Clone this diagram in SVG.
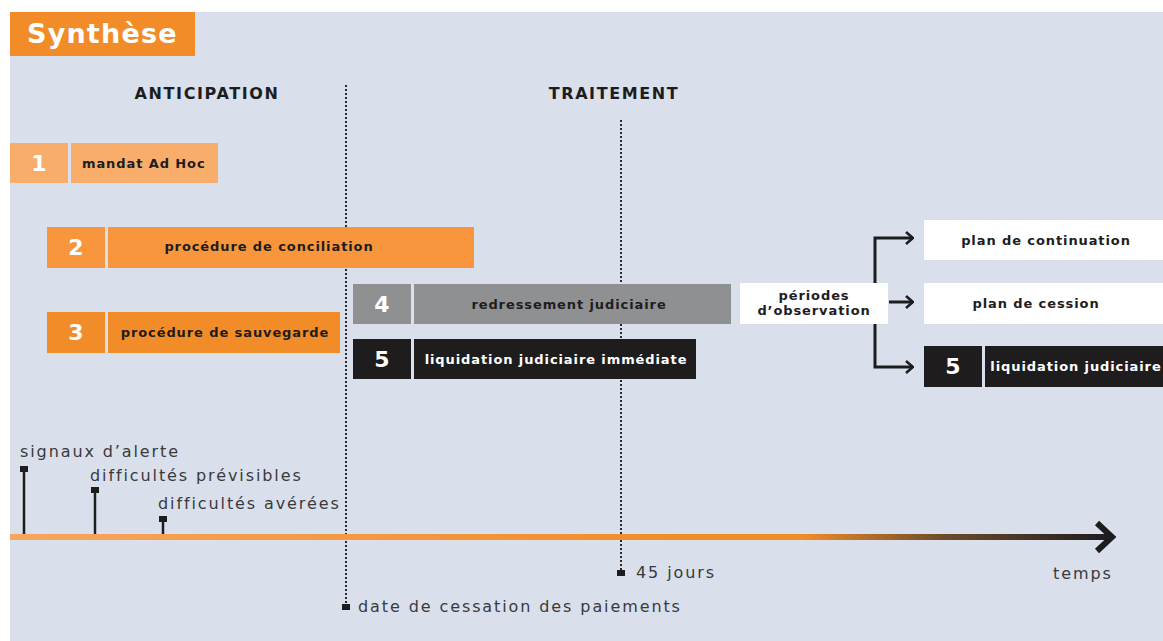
<svg xmlns="http://www.w3.org/2000/svg" width="1163" height="641" viewBox="0 0 1163 641">
<defs>
<style>
.h{font-family:"DejaVu Sans","Liberation Sans",sans-serif;font-weight:700;font-size:16px;letter-spacing:1.6px;fill:#1d1d1f}
.lab{font-family:"DejaVu Sans","Liberation Sans",sans-serif;font-weight:700;font-size:13px;letter-spacing:0.9px;fill:#1d1d1f}
.labw{font-family:"DejaVu Sans","Liberation Sans",sans-serif;font-weight:700;font-size:13px;letter-spacing:0.9px;fill:#ffffff}
.num{font-family:"DejaVu Sans","Liberation Sans",sans-serif;font-weight:700;font-size:22px;fill:#ffffff}
.t{font-family:"DejaVu Sans","Liberation Sans",sans-serif;font-size:16px;fill:#3a3a3c;letter-spacing:1.9px}
.dot{stroke:#2a2a2a;stroke-width:2;stroke-dasharray:2 2}
.conn{fill:none;stroke:#1d1d1f;stroke-width:3}
.tick{stroke:#1d1d1f;stroke-width:2.5}
</style>
<linearGradient id="tl" x1="10" y1="0" x2="1110" y2="0" gradientUnits="userSpaceOnUse">
<stop offset="0" stop-color="#f7a55e"/>
<stop offset="0.6" stop-color="#f28c28"/>
<stop offset="0.72" stop-color="#f28c28"/>
<stop offset="0.85" stop-color="#6b4a2a"/>
<stop offset="1" stop-color="#1d1d1f"/>
</linearGradient>
<marker id="ah" viewBox="0 0 10 14" markerWidth="10" markerHeight="14" refX="9" refY="7" orient="auto" markerUnits="userSpaceOnUse">
<path d="M2,1 L9,7 L2,13" fill="none" stroke="#1d1d1f" stroke-width="2.6"/>
</marker>
</defs>
<rect x="0" y="0" width="1163" height="641" fill="#ffffff"/>
<rect x="10" y="12" width="1153" height="629" fill="#d9dfeb"/>

<g id="title">
<rect x="10" y="12" width="185" height="44" fill="#f28c28"/>
<text x="27" y="43" font-family="'DejaVu Sans','Liberation Sans',sans-serif" font-weight="700" font-size="27" letter-spacing="1.2" fill="#ffffff">Synthèse</text>
</g>

<text class="h" x="207" y="99" text-anchor="middle">ANTICIPATION</text>
<text class="h" x="614" y="99" text-anchor="middle">TRAITEMENT</text>

<line class="dot" x1="346" y1="85" x2="346" y2="604"/>
<line class="dot" x1="621" y1="120" x2="621" y2="570"/>

<g id="n1">
<rect x="10" y="143" width="58" height="40" fill="#f9ad6a"/>
<rect x="71" y="143" width="147" height="40" fill="#f9ad6a"/>
<text class="num" x="39" y="171" text-anchor="middle">1</text>
<text class="lab" x="82" y="168">mandat Ad Hoc</text>
</g>
<g id="n2">
<rect x="47" y="227" width="58" height="41" fill="#f7963c"/>
<rect x="108" y="227" width="366" height="41" fill="#f7963c"/>
<text class="num" x="76" y="255" text-anchor="middle">2</text>
<text class="lab" x="269" y="251" text-anchor="middle">procédure de conciliation</text>
</g>
<g id="n3">
<rect x="47" y="312" width="58" height="41" fill="#f28c28"/>
<rect x="108" y="312" width="232" height="41" fill="#f28c28"/>
<text class="num" x="76" y="340" text-anchor="middle">3</text>
<text class="lab" x="225" y="337" text-anchor="middle">procédure de sauvegarde</text>
</g>
<g id="n4">
<rect x="353" y="284" width="58" height="40" fill="#8f9091"/>
<rect x="414" y="284" width="317" height="40" fill="#8f9091"/>
<text class="num" x="382" y="312" text-anchor="middle">4</text>
<text class="lab" x="569" y="309" text-anchor="middle">redressement judiciaire</text>
</g>
<g id="n5a">
<rect x="353" y="339" width="58" height="40" fill="#1e1c1c"/>
<rect x="414" y="339" width="282" height="40" fill="#1e1c1c"/>
<text class="num" x="382" y="367" text-anchor="middle">5</text>
<text class="labw" x="556" y="364" text-anchor="middle">liquidation judiciaire immédiate</text>
</g>
<g id="obs">
<rect x="740" y="283" width="148" height="41" fill="#ffffff"/>
<text class="lab" x="814" y="300" text-anchor="middle">périodes</text>
<text class="lab" x="814" y="315" text-anchor="middle">d’observation</text>
</g>
<g id="cont">
<rect x="924" y="220" width="239" height="40" fill="#ffffff"/>
<text class="lab" x="1046" y="245" text-anchor="middle">plan de continuation</text>
</g>
<g id="cess">
<rect x="924" y="283" width="239" height="41" fill="#ffffff"/>
<text class="lab" x="1036" y="308" text-anchor="middle">plan de cession</text>
</g>
<g id="n5b">
<rect x="924" y="346" width="58" height="41" fill="#1e1c1c"/>
<rect x="985" y="346" width="178" height="41" fill="#1e1c1c"/>
<text class="num" x="953" y="374" text-anchor="middle">5</text>
<text class="labw" x="1076" y="371" text-anchor="middle">liquidation judiciaire</text>
</g>

<g id="connectors">
<path class="conn" d="M875,283 V238 H913" marker-end="url(#ah)"/>
<path class="conn" d="M889,302 H913" marker-end="url(#ah)"/>
<path class="conn" d="M875,324 V367 H913" marker-end="url(#ah)"/>
</g>

<g id="timeline">
<rect x="10" y="534" width="1098" height="6" fill="url(#tl)"/>
<path d="M1097,523 L1112,537 L1097,551" fill="none" stroke="#1d1d1f" stroke-width="6"/>
<text class="t" x="1053" y="579">temps</text>
<line class="tick" x1="24" y1="468" x2="24" y2="534"/>
<rect x="20" y="466" width="8" height="6" fill="#1d1d1f"/>
<text class="t" x="20" y="457">signaux d’alerte</text>
<line class="tick" x1="95" y1="489" x2="95" y2="534"/>
<rect x="91" y="487" width="8" height="6" fill="#1d1d1f"/>
<text class="t" x="90" y="481">difficultés prévisibles</text>
<line class="tick" x1="163" y1="518" x2="163" y2="534"/>
<rect x="159" y="516" width="8" height="6" fill="#1d1d1f"/>
<text class="t" x="158" y="509">difficultés avérées</text>
<rect x="617" y="570" width="8" height="6" fill="#1d1d1f"/>
<text class="t" x="636" y="578">45 jours</text>
<rect x="342" y="604" width="8" height="6" fill="#1d1d1f"/>
<text class="t" x="358" y="612">date de cessation des paiements</text>
</g>
</svg>
